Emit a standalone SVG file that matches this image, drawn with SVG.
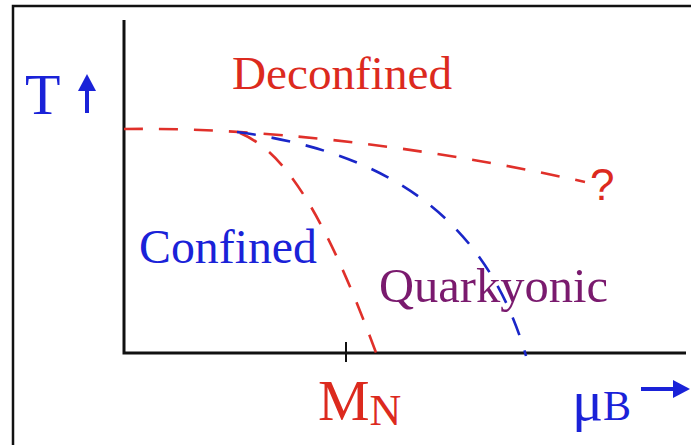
<svg xmlns="http://www.w3.org/2000/svg" width="691" height="445" viewBox="0 0 691 445">
<style>
  .lbl{font-family:"Liberation Serif","Times New Roman",serif;}
  .red{fill:#dc2a1e;}
  .blue{fill:#1a22d8;}
  .purple{fill:#7a1a6e;}
  .axis{stroke:#111;stroke-width:3;fill:none;}
  .dr{stroke:#e0302a;stroke-width:2.6;fill:none;stroke-dasharray:19 16;}
  .db{stroke:#1a26c8;stroke-width:2.6;fill:none;stroke-dasharray:19 16;}
</style>
<rect width="691" height="445" fill="#fff"/>
<g id="frame">
  <path d="M13,445 V6 H691" stroke="#111" stroke-width="2.5" fill="none"/>
</g>
<g id="axes">
  <path class="axis" d="M124,20 V353 H686"/>
  <path d="M346,342 V362" stroke="#111" stroke-width="2"/>
</g>
<g id="connectors">
  <path class="dr" d="M124,129 C250,127 420,145 585,182"/>
  <path class="dr" d="M240,133 C280,150 320,200 378,358"/>
  <path class="db" d="M237,132 C355,148 480,195 526,356"/>
</g>
<g id="t-axis-label">
  <text class="lbl blue" x="25" y="114" font-size="58">T</text>
  <path d="M87,113 V88" stroke="#1a22d8" stroke-width="4"/>
  <path d="M78,91 L87,74 L96,91 Z" fill="#1a22d8"/>
</g>
<g id="deconfined"><text class="lbl red" x="232" y="89" font-size="47" textLength="220" lengthAdjust="spacingAndGlyphs">Deconfined</text></g>
<g id="confined"><text class="lbl blue" x="139" y="263" font-size="48" textLength="178" lengthAdjust="spacingAndGlyphs">Confined</text></g>
<g id="quarkyonic"><text class="lbl purple" x="379" y="302" font-size="48" textLength="229" lengthAdjust="spacingAndGlyphs">Quarkyonic</text></g>
<g id="question"><text x="590" y="200" font-size="44" font-family="Liberation Sans, Arial, sans-serif" fill="#dc2a1e">?</text></g>
<g id="mn-label">
  <text class="lbl red" x="318" y="420" font-size="58">M<tspan font-size="44" dy="5">N</tspan></text>
</g>
<g id="mub-label">
  <text class="lbl blue" x="572" y="420" font-size="58">μ<tspan font-size="42">B</tspan></text>
  <path d="M641,389 H676" stroke="#1a22d8" stroke-width="4"/>
  <path d="M673,380 L690,389 L673,398 Z" fill="#1a22d8"/>
</g>
</svg>
